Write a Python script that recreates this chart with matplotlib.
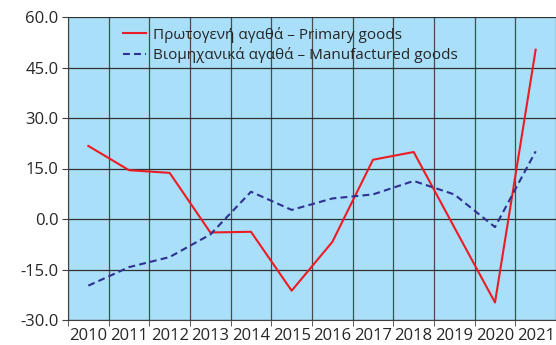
import matplotlib
matplotlib.use("Agg")
import matplotlib.pyplot as plt

years = ["2010", "2011", "2012", "2013", "2014", "2015",
         "2016", "2017", "2018", "2019", "2020", "2021"]
primary = [21.7, 14.5, 13.7, -4.0, -3.8, -21.3, -6.8, 17.6, 19.9, -2.5, -24.8, 50.3]
manufactured = [-19.8, -14.3, -11.3, -4.6, 8.1, 2.7, 6.1, 7.3, 11.3, 7.3, -2.4, 20.1]
y_ticks = [-30, -15, 0, 15, 30, 45, 60]

plt.rcParams["font.family"] = ["Open Sans", "DejaVu Sans"]

fig = plt.figure(figsize=(5.56, 3.45), dpi=100)
ax = fig.add_axes([68 / 556, 1 - 320 / 345, 1 - 68 / 556, (320 - 17) / 345])
ax.set_facecolor("#a9dff9")

x = list(range(len(years)))
ax.plot(x, primary, color="#ed1c24", lw=1.5,
        label="Πρωτογενή αγαθά – Primary goods")
ax.plot(x, manufactured, color="#2e3192", lw=1.5, ls=(0, (3.3, 2.0)),
        label="Βιομηχανικά αγαθά – Manufactured goods")

ax.set_ylim(-30, 60)
ax.set_yticks(y_ticks)
ax.set_yticklabels([f"{v:.1f}" for v in y_ticks])
ax.set_xlim(-0.5, 11.395)

# category labels centred, grid lines on category boundaries
ax.set_xticks(x)
ax.set_xticklabels(years)
ax.set_xticks([i + 0.5 for i in range(-1, len(years))], minor=True)
ax.tick_params(axis="x", which="major", length=0, pad=6, labelsize=12, colors="#262626")
ax.tick_params(axis="x", which="minor", length=4, color="#404040")
ax.tick_params(axis="y", length=4, color="#404040", labelsize=12, colors="#262626", pad=3)
ax.grid(True, axis="y", color="#303030", lw=0.9)
ax.grid(True, axis="x", which="minor", color="#4a4a4a", lw=0.9)
ax.set_axisbelow(True)

for side in ("right", "top"):
    ax.spines[side].set_visible(False)
ax.spines["left"].set_color("#404040")
ax.spines["bottom"].set_color("#404040")

ax.legend(loc="upper left", bbox_to_anchor=((123 - 68) / 488, 0.968), frameon=False,
          fontsize=11, handlelength=1.5, handletextpad=0.45,
          labelspacing=0.3, borderpad=0, borderaxespad=0, labelcolor="#262626")

fig.savefig("out.png", dpi=100)
